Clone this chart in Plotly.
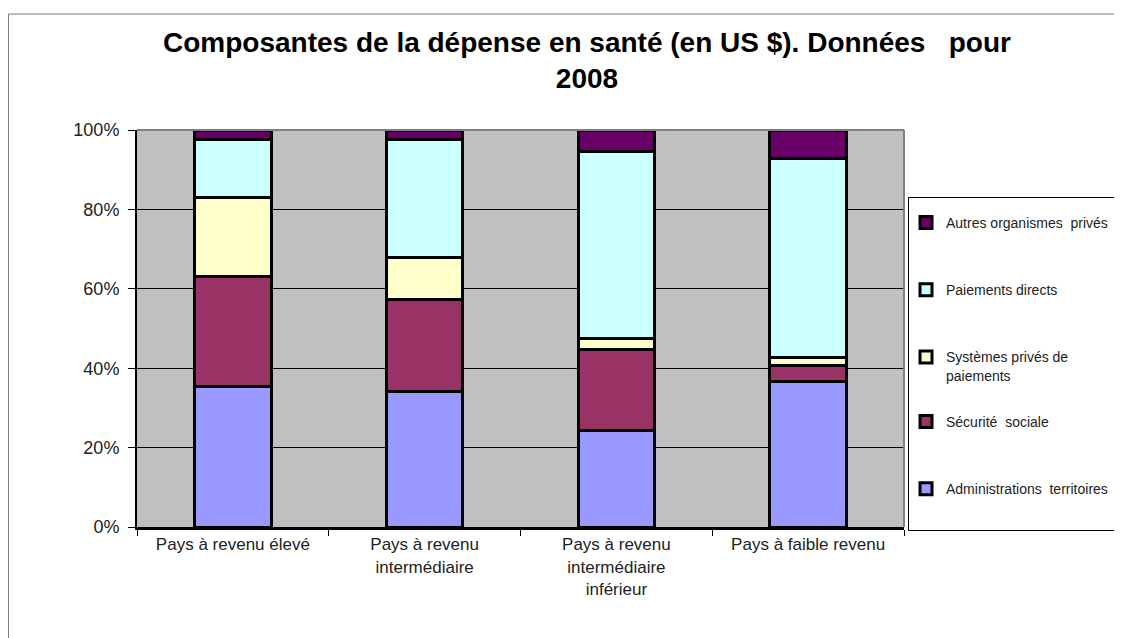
import plotly.graph_objects as go

categories = ["Pays à revenu élevé", "Pays à revenu<br>intermédiaire",
              "Pays à revenu<br>intermédiaire<br>inférieur", "Pays à faible revenu"]
admin = [35.5, 34.1, 24.2, 36.6]
securite = [27.5, 23.1, 20.5, 4.2]
systemes = [19.9, 10.6, 2.8, 1.8]
paiements = [14.6, 29.7, 47.1, 50.3]
autres = [2.5, 2.5, 5.4, 7.1]

series = [
    ("Administrations  territoires", admin, "#9999FF", "legend2"),
    ("Sécurité  sociale", securite, "#993366", "legend2"),
    ("Systèmes privés de<br>paiements", systemes, "#FFFFCC", "legend"),
    ("Paiements directs", paiements, "#CCFFFF", "legend"),
    ("Autres organismes  privés", autres, "#660066", "legend"),
]

OFF = 8  # page body margin
W, H = 1122 - OFF, 638 - OFF
L, R, T, B = 137 - OFF, 904 - OFF, 130 - OFF, 527 - OFF

fig = go.Figure()
n = len(series)
for i, (name, vals, col, leg) in enumerate(series):
    fig.add_trace(go.Bar(
        x=categories, y=vals, name=name, legendgroup=f"g{i}",
        legendrank=n - i, legend=leg,
        marker=dict(color=col, line=dict(color="black", width=3)),
    ))

fx = lambda px: (px - OFF - L) / (R - L)
fy = lambda py: (B - (py - OFF)) / (B - T)

leg_common = dict(xanchor="left", yanchor="top",
                  traceorder="grouped", tracegroupgap=46, valign="top",
                  borderwidth=0, bgcolor="rgba(0,0,0,0)",
                  font=dict(size=14, color="#222"), itemwidth=30)

fig.update_layout(
    width=W, height=H,
    barmode="stack", barnorm="percent", bargap=0.6,
    paper_bgcolor="white", plot_bgcolor="#C0C0C0",
    margin=dict(l=L, r=W - R, t=T, b=H - B, autoexpand=False),
    font=dict(family="Liberation Sans, Arial, sans-serif", color="black"),
    title=dict(text="<b>Composantes de la dépense en santé (en US $). Données   pour<br>2008</b>",
               x=(587 - OFF) / W, xanchor="center", xref="container",
               y=1 - (52 - OFF) / H, yanchor="middle", yref="container",
               font=dict(size=28, color="black")),
    legend=dict(x=fx(906), y=fy(207), **leg_common),
    legend2=dict(x=fx(906), y=fy(406), **leg_common),
    showlegend=True,
)
fig.update_yaxes(range=[0, 100], tickvals=[0, 20, 40, 60, 80, 100],
                 ticktext=["0%", "20%", "40%", "60%", "80%", "100%"],
                 showgrid=True, gridcolor="black", gridwidth=1,
                 showline=True, linecolor="black", linewidth=2,
                 ticks="outside", ticklen=7, tickcolor="black",
                 tickfont=dict(size=18, color="#222"), ticklabelstandoff=5, zeroline=False)
fig.update_xaxes(showline=True, linecolor="black", linewidth=3,
                 ticks="outside", ticklen=6, tickcolor="black",
                 tickson="boundaries", tickfont=dict(size=17, color="#222"))
# plot-area border (gray top/right)
fig.add_shape(type="line", xref="paper", yref="paper", x0=0, x1=1, y0=1, y1=1,
              line=dict(color="#808080", width=2), layer="above")
fig.add_shape(type="line", xref="paper", yref="paper", x0=1, x1=1, y0=0, y1=1,
              line=dict(color="#808080", width=2), layer="above")
# legend frame
fig.add_shape(type="rect", xref="paper", yref="paper",
              x0=fx(908.5), x1=fx(1140), y0=fy(197.5), y1=fy(530.5),
              line=dict(color="black", width=1), layer="below")
# outer chart frame
fig.add_shape(type="rect", xref="paper", yref="paper",
              x0=fx(8.5), x1=fx(1140), y0=fy(14), y1=fy(660),
              line=dict(color="#808080", width=1), layer="below")
fig.write_html("out.html")
